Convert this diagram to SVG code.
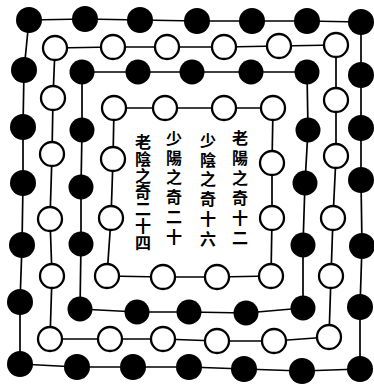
<svg xmlns="http://www.w3.org/2000/svg" width="374" height="384" viewBox="0 0 374 384">
<style>
.ln{fill:none;stroke:#000;stroke-width:1.7;stroke-linejoin:round}
.b{fill:#000}
.w{fill:#fff;stroke:#000;stroke-width:2.3}
.t{font-family:"Noto Sans CJK TC","Noto Sans CJK SC",serif;font-size:16px;font-weight:700;fill:#000;writing-mode:vertical-rl;text-anchor:start}
</style>
<rect width="374" height="384" fill="#fff"/>
<g id="connectors">
<polygon class="ln" points="29,20 85,19 140,20 197,21 252,21 307,21 361,22 361,75 361,128 361,180 362,246 360,307 360,369 302,371 244,369 189,367 133,367 77,367 20,364 20,302 22,245 23,183 23,127 24,70"/>
<polygon class="ln" points="55,48 113,47 167,47 224,47 279,46 336,45 336,100 336,156 333,218 331,276 329,337 274,341 217,341 163,339 110,339 50,339 52,276 50,219 52,154 53,98"/>
<polygon class="ln" points="82,72 138,72 192,72 251,72 307,72 308,130 305,183 303,245 303,308 246,313 189,312 137,312 80,309 81,244 81,187 82,130"/>
<polygon class="ln" points="114,108 165,108 224,108 273,108 272,163 272,218 271,276 217,277 163,277 107,276 111,218 113,159"/>
</g>
<g id="ring1-laoyin">
<g id="a1"><circle class="b" cx="29" cy="20" r="13"/></g>
<g id="a2"><circle class="b" cx="85" cy="19" r="13"/></g>
<g id="a3"><circle class="b" cx="140" cy="20" r="13"/></g>
<g id="a4"><circle class="b" cx="197" cy="21" r="13"/></g>
<g id="a5"><circle class="b" cx="252" cy="21" r="13"/></g>
<g id="a6"><circle class="b" cx="307" cy="21" r="13"/></g>
<g id="a7"><circle class="b" cx="361" cy="22" r="13"/></g>
<g id="a8"><circle class="b" cx="361" cy="75" r="13"/></g>
<g id="a9"><circle class="b" cx="361" cy="128" r="13"/></g>
<g id="a10"><circle class="b" cx="361" cy="180" r="13"/></g>
<g id="a11"><circle class="b" cx="362" cy="246" r="13"/></g>
<g id="a12"><circle class="b" cx="360" cy="307" r="13"/></g>
<g id="a13"><circle class="b" cx="360" cy="369" r="13"/></g>
<g id="a14"><circle class="b" cx="302" cy="371" r="13"/></g>
<g id="a15"><circle class="b" cx="244" cy="369" r="13"/></g>
<g id="a16"><circle class="b" cx="189" cy="367" r="13"/></g>
<g id="a17"><circle class="b" cx="133" cy="367" r="13"/></g>
<g id="a18"><circle class="b" cx="77" cy="367" r="13"/></g>
<g id="a19"><circle class="b" cx="20" cy="364" r="13"/></g>
<g id="a20"><circle class="b" cx="20" cy="302" r="13"/></g>
<g id="a21"><circle class="b" cx="22" cy="245" r="13"/></g>
<g id="a22"><circle class="b" cx="23" cy="183" r="13"/></g>
<g id="a23"><circle class="b" cx="23" cy="127" r="13"/></g>
<g id="a24"><circle class="b" cx="24" cy="70" r="13"/></g>
</g>
<g id="ring2-shaoyang">
<g id="b1"><circle class="w" cx="55" cy="48" r="12"/></g>
<g id="b2"><circle class="w" cx="113" cy="47" r="12"/></g>
<g id="b3"><circle class="w" cx="167" cy="47" r="12"/></g>
<g id="b4"><circle class="w" cx="224" cy="47" r="12"/></g>
<g id="b5"><circle class="w" cx="279" cy="46" r="12"/></g>
<g id="b6"><circle class="w" cx="336" cy="45" r="12"/></g>
<g id="b7"><circle class="w" cx="336" cy="100" r="12"/></g>
<g id="b8"><circle class="w" cx="336" cy="156" r="12"/></g>
<g id="b9"><circle class="w" cx="333" cy="218" r="12"/></g>
<g id="b10"><circle class="w" cx="331" cy="276" r="12"/></g>
<g id="b11"><circle class="w" cx="329" cy="337" r="12"/></g>
<g id="b12"><circle class="w" cx="274" cy="341" r="12"/></g>
<g id="b13"><circle class="w" cx="217" cy="341" r="12"/></g>
<g id="b14"><circle class="w" cx="163" cy="339" r="12"/></g>
<g id="b15"><circle class="w" cx="110" cy="339" r="12"/></g>
<g id="b16"><circle class="w" cx="50" cy="339" r="12"/></g>
<g id="b17"><circle class="w" cx="52" cy="276" r="12"/></g>
<g id="b18"><circle class="w" cx="50" cy="219" r="12"/></g>
<g id="b19"><circle class="w" cx="52" cy="154" r="12"/></g>
<g id="b20"><circle class="w" cx="53" cy="98" r="12"/></g>
</g>
<g id="ring3-shaoyin">
<g id="c1"><circle class="b" cx="82" cy="72" r="12.5"/></g>
<g id="c2"><circle class="b" cx="138" cy="72" r="12.5"/></g>
<g id="c3"><circle class="b" cx="192" cy="72" r="12.5"/></g>
<g id="c4"><circle class="b" cx="251" cy="72" r="12.5"/></g>
<g id="c5"><circle class="b" cx="307" cy="72" r="12.5"/></g>
<g id="c6"><circle class="b" cx="308" cy="130" r="12.5"/></g>
<g id="c7"><circle class="b" cx="305" cy="183" r="12.5"/></g>
<g id="c8"><circle class="b" cx="303" cy="245" r="12.5"/></g>
<g id="c9"><circle class="b" cx="303" cy="308" r="12.5"/></g>
<g id="c10"><circle class="b" cx="246" cy="313" r="12.5"/></g>
<g id="c11"><circle class="b" cx="189" cy="312" r="12.5"/></g>
<g id="c12"><circle class="b" cx="137" cy="312" r="12.5"/></g>
<g id="c13"><circle class="b" cx="80" cy="309" r="12.5"/></g>
<g id="c14"><circle class="b" cx="81" cy="244" r="12.5"/></g>
<g id="c15"><circle class="b" cx="81" cy="187" r="12.5"/></g>
<g id="c16"><circle class="b" cx="82" cy="130" r="12.5"/></g>
</g>
<g id="ring4-laoyang">
<g id="d1"><circle class="w" cx="114" cy="108" r="12"/></g>
<g id="d2"><circle class="w" cx="165" cy="108" r="12"/></g>
<g id="d3"><circle class="w" cx="224" cy="108" r="12"/></g>
<g id="d4"><circle class="w" cx="273" cy="108" r="12"/></g>
<g id="d5"><circle class="w" cx="272" cy="163" r="12"/></g>
<g id="d6"><circle class="w" cx="272" cy="218" r="12"/></g>
<g id="d7"><circle class="w" cx="271" cy="276" r="12"/></g>
<g id="d8"><circle class="w" cx="217" cy="277" r="12"/></g>
<g id="d9"><circle class="w" cx="163" cy="277" r="12"/></g>
<g id="d10"><circle class="w" cx="107" cy="276" r="12"/></g>
<g id="d11"><circle class="w" cx="111" cy="218" r="12"/></g>
<g id="d12"><circle class="w" cx="113" cy="159" r="12"/></g>
</g>
<g id="labels">
<text class="t" x="240" y="130" letter-spacing="4">老陽之奇十二</text>
<text class="t" x="208" y="132" letter-spacing="3.7">少陰之奇十六</text>
<text class="t" x="174" y="130" letter-spacing="3.7">少陽之奇二十</text>
<text class="t" x="143" y="134" letter-spacing="0.8">老陰之奇二十四</text>
</g>
</svg>
